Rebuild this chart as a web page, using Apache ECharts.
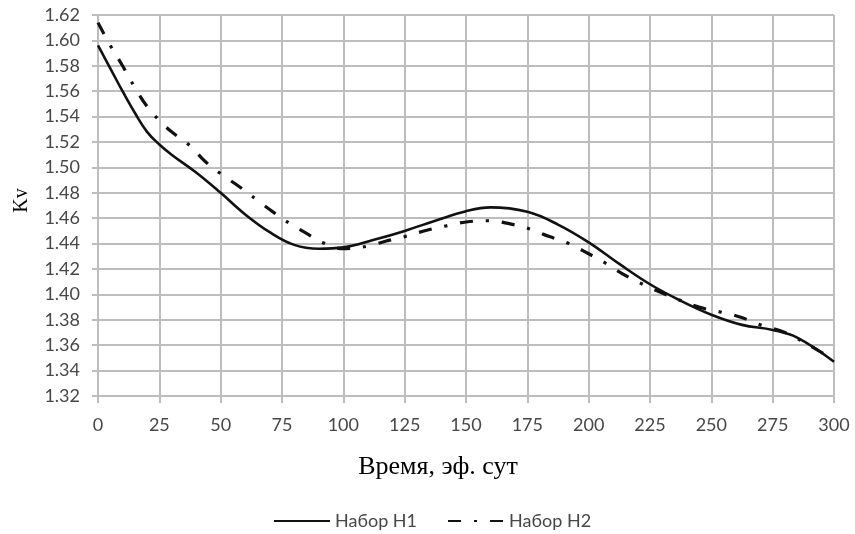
<!DOCTYPE html>
<html>
<head>
<meta charset="utf-8">
<script src="https://cdn.jsdelivr.net/npm/echarts@6/dist/echarts.min.js"></script>
<style>
  html, body { margin: 0; padding: 0; background: #fff; }
  #chart { width: 855px; height: 534px; }
</style>
</head>
<body>
<div id="chart"></div>
<script>
// Kv vs effective days, two fuel loadings
const seriesNames = ['Набор Н1', 'Набор Н2'];

const h1Days = [0, 5, 10, 15, 20, 25, 30, 40, 50, 60, 70, 80, 90, 100, 112.5, 125, 137.5, 150, 160, 175, 187.5, 200, 212.5, 225, 237.5, 250, 262.5, 275, 285, 300];
const h1Kv   = [1.596, 1.578, 1.560, 1.543, 1.528, 1.518, 1.510, 1.496, 1.480, 1.463, 1.449, 1.439, 1.436, 1.437, 1.443, 1.450, 1.458, 1.4655, 1.4685, 1.465, 1.455, 1.441, 1.424, 1.408, 1.395, 1.384, 1.376, 1.372, 1.366, 1.347];

const h2Days = [0, 5, 10, 15, 20, 25, 30, 37.5, 43.5, 50, 57.5, 65, 72, 78, 85, 92.5, 100, 110, 117.5, 125, 134, 142, 150, 159, 168, 176, 184, 192, 200, 207, 214, 222, 230, 245, 254, 262, 270, 280, 293.5, 300];
const h2Kv   = [1.614, 1.596, 1.580, 1.563, 1.548, 1.537, 1.528, 1.517, 1.505, 1.495, 1.485, 1.474, 1.464, 1.456, 1.448, 1.440, 1.436, 1.438, 1.442, 1.4455, 1.4505, 1.454, 1.457, 1.458, 1.4555, 1.4515, 1.4455, 1.440, 1.432, 1.4245, 1.416, 1.408, 1.401, 1.390, 1.386, 1.382, 1.376, 1.370, 1.356, 1.348];

const zip = (xs, ys) => xs.map((x, i) => [x, ys[i]]);

const GRID_C = '#bdbdbd';
const LABEL_C = '#474747';
const LABEL_FONT = 'Lato, "DejaVu Sans", sans-serif';
const SERIF = '"Liberation Serif", "DejaVu Serif", serif';

const chart = echarts.init(document.getElementById('chart'), null, { renderer: 'canvas' });

chart.setOption({
  backgroundColor: '#fff',
  animation: false,
  grid: { left: 98, right: 21, top: 15, bottom: 138, containLabel: false },
  xAxis: {
    type: 'value',
    min: 0, max: 300, interval: 25,
    name: 'Время, эф. сут',
    nameLocation: 'middle',
    nameGap: 58,
    nameTextStyle: { fontFamily: SERIF, fontSize: 26, color: '#000', padding: [0, 56, 0, 0], verticalAlign: 'top' },
    axisLine: { show: true, lineStyle: { color: GRID_C, width: 2 } },
    axisTick: { show: true, length: 7, lineStyle: { color: GRID_C, width: 2 } },
    axisLabel: { margin: 20, color: LABEL_C, fontFamily: LABEL_FONT, fontSize: 18 },
    splitLine: { show: true, lineStyle: { color: GRID_C, width: 2 } }
  },
  yAxis: {
    type: 'value',
    min: 1.32, max: 1.62, interval: 0.02,
    name: 'Kv',
    nameLocation: 'middle',
    nameGap: 66,
    nameTextStyle: { fontFamily: SERIF, fontSize: 20, color: '#000', padding: [0, 0, 0, 10] },
    axisLine: { show: true, lineStyle: { color: GRID_C, width: 2 } },
    axisTick: { show: true, length: 6, lineStyle: { color: GRID_C, width: 2 } },
    axisLabel: { margin: 18, color: LABEL_C, fontFamily: LABEL_FONT, fontSize: 18, formatter: v => v.toFixed(2) },
    splitLine: { show: true, lineStyle: { color: GRID_C, width: 2 } }
  },
  legend: {
    left: 268, top: 507,
    itemWidth: 56, itemHeight: 14, itemGap: 30,
    itemStyle: { opacity: 0 },
    textStyle: { color: LABEL_C, fontFamily: LABEL_FONT, fontSize: 18 },
    data: seriesNames
  },
  series: [
    {
      name: seriesNames[0],
      type: 'line',
      smooth: 0.4,
      showSymbol: false,
      symbol: 'none',
      data: zip(h1Days, h1Kv),
      lineStyle: { color: '#111', width: 2.6 },
      itemStyle: { color: '#111' },
      z: 3
    },
    {
      name: seriesNames[1],
      type: 'line',
      smooth: 0.4,
      showSymbol: false,
      symbol: 'none',
      data: zip(h2Days, h2Kv),
      lineStyle: { color: '#111', width: 3.2, type: [13, 13, 3, 13] },
      itemStyle: { color: '#111' },
      z: 2
    }
  ]
});
</script>
</body>
</html>
